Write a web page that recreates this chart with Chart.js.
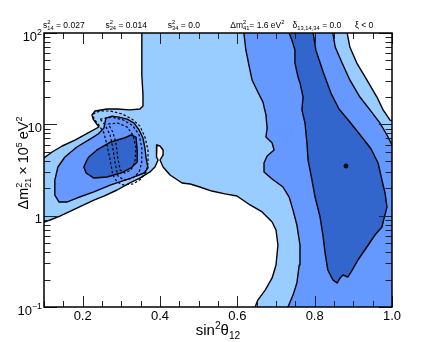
<!DOCTYPE html>
<html>
<head>
<meta charset="utf-8">
<script src="https://cdn.jsdelivr.net/npm/chart.js@4.4.0/dist/chart.umd.min.js"></script>
<style>
  html, body { margin: 0; padding: 0; background: #fff; }
</style>
</head>
<body>
<canvas id="chart" width="436" height="342"></canvas>
<script>
// contour regions, [sin^2 theta12, dm21^2 (1e-5 eV^2)]
const region3 = [[0.353,115],[0.884,115],[0.884,100],[0.891,70.3],[0.909,46.9],[0.935,30.6],[0.961,19.9],[0.977,14.4],[0.995,11.1],[1.02,10.3],[1.02,0.08],[0.643,0.08],[0.646,0.100],[0.653,0.119],[0.672,0.153],[0.690,0.208],[0.700,0.288],[0.705,0.477],[0.700,0.697],[0.690,0.853],[0.664,1.10],[0.633,1.31],[0.599,1.64],[0.568,1.73],[0.534,1.86],[0.503,2.06],[0.478,2.22],[0.457,2.28],[0.426,2.79],[0.408,3.41],[0.400,4.06],[0.408,4.62],[0.408,5.24],[0.400,5.79],[0.392,5.94],[0.390,5.24],[0.392,4.39],[0.395,4.06],[0.387,3.41],[0.374,3.01],[0.348,2.58],[0.322,2.28],[0.289,1.91],[0.255,1.64],[0.229,1.48],[0.185,1.21],[0.141,0.991],[0.116,0.897],[0.100,0.853],[0.08,0.853],[0.08,4.28],[0.100,4.28],[0.121,4.98],[0.147,5.79],[0.180,6.73],[0.214,8.04],[0.242,9.35],[0.227,11.4],[0.224,12.7],[0.232,14.0],[0.263,14.7],[0.289,14.7],[0.322,14.4],[0.348,14.7],[0.356,15.9],[0.356,20.9],[0.353,34.7],[0.353,65.2],[0.353,100]];
const region2Main = [[0.617,115],[0.847,115],[0.847,100],[0.853,70.3],[0.871,46.9],[0.891,30.6],[0.917,19.9],[0.943,14.4],[0.969,10.3],[0.987,7.64],[1.0,5.94],[1.02,5.94],[1.02,0.08],[0.731,0.08],[0.731,0.100],[0.744,0.135],[0.754,0.183],[0.760,0.288],[0.762,0.477],[0.754,0.791],[0.744,1.15],[0.734,1.60],[0.718,2.06],[0.690,2.52],[0.669,3.01],[0.669,3.77],[0.677,4.50],[0.695,5.24],[0.690,6.25],[0.674,7.26],[0.677,9.12],[0.674,12.7],[0.666,17.6],[0.653,22.6],[0.638,30.6],[0.630,44.6],[0.622,65.2],[0.617,100]];
const region2Island = [[0.260,11.7],[0.255,9.12],[0.240,7.84],[0.219,6.90],[0.185,5.65],[0.154,4.39],[0.136,3.41],[0.128,2.45],[0.128,1.68],[0.139,1.41],[0.159,1.41],[0.185,1.56],[0.229,1.82],[0.273,2.17],[0.325,2.58],[0.359,2.93],[0.369,3.33],[0.364,4.28],[0.361,5.51],[0.356,7.08],[0.346,8.67],[0.333,10.3],[0.315,11.4],[0.294,12.0],[0.276,12.3]];
const region1Main = [[0.734,115],[0.796,115],[0.796,100],[0.803,65.2],[0.822,37.4],[0.842,22.0],[0.863,14.7],[0.891,10.6],[0.922,7.26],[0.946,5.37],[0.964,3.77],[0.974,2.45],[0.982,1.77],[0.987,1.24],[0.977,0.853],[0.974,0.752],[0.956,0.614],[0.935,0.454],[0.912,0.327],[0.897,0.254],[0.886,0.213],[0.873,0.224],[0.866,0.208],[0.858,0.183],[0.847,0.198],[0.834,0.254],[0.827,0.390],[0.822,0.583],[0.814,0.966],[0.801,1.60],[0.793,2.45],[0.783,4.06],[0.780,6.25],[0.775,10.3],[0.767,14.4],[0.770,19.9],[0.762,28.4],[0.757,33.0],[0.749,46.9],[0.749,65.2],[0.741,83.8],[0.734,100]];
const region1Island = [[0.211,4.06],[0.203,3.41],[0.209,2.93],[0.229,2.58],[0.263,2.65],[0.299,2.93],[0.325,3.33],[0.341,3.87],[0.341,5.24],[0.338,7.26],[0.325,7.64],[0.307,7.08],[0.273,6.41],[0.237,5.24],[0.216,4.39]];
const dashOuter = [[0.227,13.0],[0.245,14.0],[0.271,14.0],[0.302,13.0],[0.328,11.4],[0.348,9.59],[0.361,7.26],[0.369,5.24],[0.369,3.77],[0.364,3.01],[0.351,2.52],[0.330,2.22],[0.304,2.17],[0.289,2.34],[0.278,2.79],[0.271,4.06],[0.263,5.94],[0.255,8.04],[0.240,10.1],[0.229,11.4]];
const dashMiddle = [[0.245,11.4],[0.276,12.0],[0.307,11.1],[0.330,9.59],[0.346,7.64],[0.353,5.51],[0.353,3.87],[0.346,3.01],[0.330,2.58],[0.307,2.45],[0.291,2.72],[0.284,3.77],[0.278,5.51],[0.271,7.64],[0.258,9.84]];
const dashInner = [[0.266,10.1],[0.291,10.3],[0.315,9.35],[0.330,7.64],[0.338,5.51],[0.335,3.87],[0.325,3.16],[0.309,2.93],[0.297,3.16],[0.291,4.28],[0.286,6.25],[0.278,8.24]];
const bestFit = [0.881, 3.50];

const xTickValues = [0.2, 0.4, 0.6, 0.8, 1.0];
const xTickLabels = ['0.2', '0.4', '0.6', '0.8', '1.0'];
const yTickValues = [0.1, 1, 10, 100];
const yTickBase = ['10', '1', '10', '10'];
const yTickExp = ['\u22121', '', '', '2'];

// rich text: [text, ''|'^'|'_']
const xTitle = [['sin', ''], ['2', '^'], ['\u03b8', ''], ['12', '_']];
const yTitle = [['\u0394m', ''], ['2', '^'], ['21', '_'], ['\u2009\u00d7\u200910', ''], ['5', '^'], ['\u2009eV', ''], ['2', '^']];
const headerItems = [
  [['s', ''], ['2', '^'], ['14', '_'], [' = 0.027', '']],
  [['s', ''], ['2', '^'], ['24', '_'], [' = 0.014', '']],
  [['s', ''], ['2', '^'], ['34', '_'], [' = 0.0', '']],
  [['\u0394m', ''], ['2', '^'], ['41', '_'], ['= 1.6 eV', ''], ['2', '^']],
  [['\u03b4', ''], ['13,14,34', '_'], [' = 0.0', '']],
  [['\u03be < 0', '']]
];

const FAM = '"Liberation Sans", Arial, Helvetica, sans-serif';
const LIGHT = '#99ccff', MED = '#6699ff', DARK = '#3366cc';

function closed(arr) {
  const pts = arr.map(p => ({x: p[0], y: p[1]}));
  pts.push({x: arr[0][0], y: arr[0][1]});
  return pts;
}

function area(arr, color, order) {
  return {
    data: closed(arr),
    backgroundColor: color,
    borderColor: '#000',
    borderWidth: 1.4,
    borderJoinStyle: 'round',
    fill: 'shape',
    pointRadius: 0,
    order: order
  };
}

function dashed(arr) {
  return {
    data: closed(arr),
    borderColor: '#000',
    borderWidth: 1.2,
    borderDash: [2.5, 2],
    fill: false,
    pointRadius: 0,
    order: 2
  };
}

function richLayout(ctx, parts, size, scale) {
  const small = size * scale;
  let cx = 0, lastW = 0;
  const items = [];
  parts.forEach(([t, k], i) => {
    const s = k ? small : size;
    ctx.font = s + 'px ' + FAM;
    const w = ctx.measureText(t).width;
    if (k === '_' && i > 0 && parts[i - 1][1] === '^') {
      const start = cx - lastW;
      items.push({t, k, s, x: start});
      cx = start + Math.max(w, lastW);
    } else {
      items.push({t, k, s, x: cx});
      cx += w;
      lastW = w;
    }
  });
  return {items, width: cx};
}

function drawRich(ctx, parts, x, y, size, align, scale) {
  const {items, width} = richLayout(ctx, parts, size, scale || 0.68);
  const x0 = align === 'center' ? x - width / 2 : align === 'right' ? x - width : x;
  ctx.textAlign = 'left';
  ctx.textBaseline = 'alphabetic';
  items.forEach(it => {
    ctx.font = it.s + 'px ' + FAM;
    const dy = it.k === '^' ? -size * 0.42 : it.k === '_' ? size * 0.24 : 0;
    ctx.fillText(it.t, x0 + it.x, y + dy);
  });
}

// frame, inner ticks, y labels, titles and header
const decor = {
  id: 'decor',
  afterDraw(chart) {
    const {ctx, chartArea: a, scales: {x, y}} = chart;
    ctx.save();
    ctx.strokeStyle = '#222';
    ctx.lineWidth = 1;
    ctx.beginPath();
    x.ticks.forEach(t => {
      const px = Math.round(x.getPixelForValue(t.value)) + 0.5;
      const major = xTickValues.some(v => Math.abs(v - t.value) < 1e-6);
      const len = major ? 11 : 6;
      ctx.moveTo(px, a.bottom); ctx.lineTo(px, a.bottom - len);
      ctx.moveTo(px, a.top); ctx.lineTo(px, a.top + len);
    });
    y.ticks.forEach(t => {
      const py = Math.round(y.getPixelForValue(t.value)) + 0.5;
      const major = yTickValues.some(v => Math.abs(v - t.value) < 1e-9);
      const len = major ? 13 : 6.5;
      ctx.moveTo(a.left, py); ctx.lineTo(a.left + len, py);
      ctx.moveTo(a.right, py); ctx.lineTo(a.right - len, py);
    });
    ctx.stroke();

    ctx.strokeStyle = '#000';
    ctx.lineWidth = 1.5;
    ctx.strokeRect(a.left, a.top, a.right - a.left, a.bottom - a.top);

    ctx.fillStyle = '#000';
    yTickValues.forEach((v, i) => {
      const py = y.getPixelForValue(v) + 7.5;
      const parts = [[yTickBase[i], '']];
      if (yTickExp[i]) parts.push([yTickExp[i], '^']);
      drawRich(ctx, parts, a.left - 2, py, 13, 'right');
    });

    drawRich(ctx, xTitle, (a.left + a.right) / 2, 335, 15, 'center');

    ctx.save();
    ctx.translate(28, 163);
    ctx.rotate(-Math.PI / 2);
    drawRich(ctx, yTitle, 0, 0, 14.5, 'center', 0.62);
    ctx.restore();

    headerItems.forEach((parts, i) => {
      drawRich(ctx, parts, a.left - 1 + i * 62.4, 28, 8.5, 'left');
    });
    ctx.restore();
  }
};

new Chart(document.getElementById('chart'), {
  type: 'line',
  data: {
    datasets: [
      area(region3, LIGHT, 9),
      area(region2Main, MED, 8),
      area(region2Island, MED, 8),
      area(region1Main, DARK, 7),
      area(region1Island, DARK, 7),
      dashed(dashOuter),
      dashed(dashMiddle),
      dashed(dashInner),
      {
        data: [{x: bestFit[0], y: bestFit[1]}],
        showLine: false,
        pointRadius: 2,
        pointBackgroundColor: '#000',
        pointBorderColor: '#000',
        order: 1
      }
    ]
  },
  options: {
    responsive: false,
    animation: false,
    events: [],
    layout: { padding: { left: 0, right: 44, top: 33, bottom: 0 } },
    plugins: { legend: { display: false }, tooltip: { enabled: false } },
    scales: {
      x: {
        type: 'linear',
        min: 0.1,
        max: 1.0,
        grid: { display: false, drawTicks: false },
        border: { display: false },
        ticks: {
          stepSize: 0.05,
          autoSkip: false,
          maxRotation: 0,
          padding: 2,
          color: '#000',
          font: { family: FAM, size: 13 },
          callback: v => {
            const i = xTickValues.findIndex(t => Math.abs(t - v) < 1e-6);
            return i >= 0 ? xTickLabels[i] : '';
          }
        },
        afterFit: s => { s.height = 35; }
      },
      y: {
        type: 'logarithmic',
        min: 0.1,
        max: 100,
        grid: { display: false, drawTicks: false },
        border: { display: false },
        ticks: { display: false, autoSkip: false },
        afterBuildTicks: s => {
          const t = [];
          [0.1, 1, 10].forEach(d => {
            for (let m = 1; m <= 9; m++) t.push({value: +(m * d).toPrecision(3)});
          });
          t.push({value: 100});
          s.ticks = t;
        },
        afterFit: s => { s.width = 44; }
      }
    }
  },
  plugins: [decor]
});
</script>
</body>
</html>
